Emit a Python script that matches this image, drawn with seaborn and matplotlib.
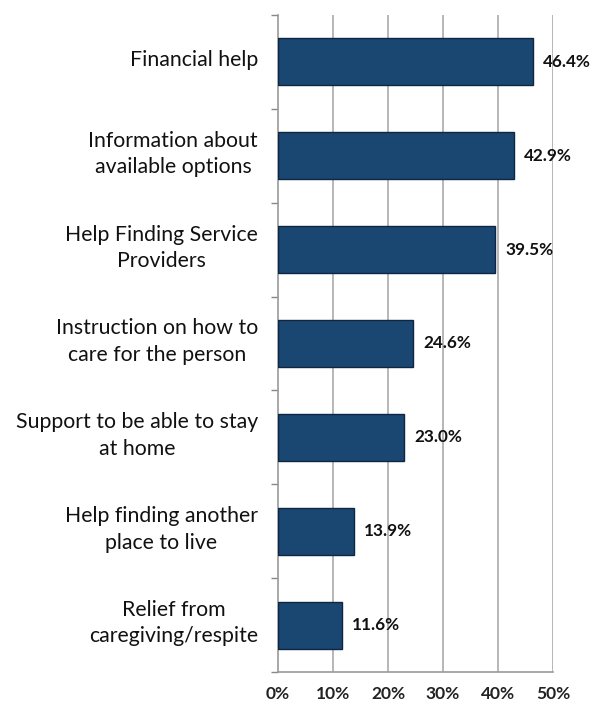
import matplotlib
matplotlib.use("Agg")
import matplotlib.pyplot as plt
import seaborn as sns
import pandas as pd
import numpy as np
from matplotlib.ticker import FixedLocator

categories = [
    "Financial help",
    "Information about\navailable options",
    "Help Finding Service\nProviders",
    "Instruction on how to\ncare for the person",
    "Support to be able to stay\nat home",
    "Help finding another\nplace to live",
    "Relief from\ncaregiving/respite",
]
values = [46.4, 42.9, 39.5, 24.6, 23.0, 13.9, 11.6]
tick_values = [0, 10, 20, 30, 40, 50]
tick_labels = ["0%", "10%", "20%", "30%", "40%", "50%"]

df = pd.DataFrame({"need": categories, "pct": values})

sns.set_theme(style="white")
plt.rcParams["font.family"] = ["Lato", "DejaVu Sans"]

fig = plt.figure(figsize=(6.06, 7.06), dpi=100)
ax = fig.add_axes([0.4587, 0.0482, 0.4538, 0.9306])

sns.barplot(data=df, x="pct", y="need", orient="h", color="#1a4672",
            width=0.5, saturation=1, ax=ax, zorder=3,
            edgecolor="#0d2742", linewidth=1.0)

ax.set_xlim(0, 50)
ax.set_ylim(len(categories) - 0.5, -0.5)
ax.set_xticks(tick_values)
ax.set_xticklabels(tick_labels, fontsize=12.5, fontweight="bold", color="#222222")
ax.set_xlabel("")
ax.set_ylabel("")

# vertical gridlines
for t in tick_values[1:]:
    ax.axvline(t, color="#aaaaaa", linewidth=1.2, zorder=1)

# category labels, each line centred, block right-aligned near the axis
ax.set_yticks([])
for i, lab in enumerate(categories):
    ax.text(-0.073, i - 0.02, lab, transform=ax.get_yaxis_transform(),
            ha="right", va="center", multialignment="center",
            fontsize=15.3, color="#111111", linespacing=1.4)

# short category separator ticks on the left axis
ax.yaxis.set_minor_locator(FixedLocator(np.arange(-0.5, len(categories), 1.0)))
ax.tick_params(axis="y", which="minor", length=5, color="#888888", width=1.0, left=True)
ax.tick_params(axis="x", which="major", length=0, pad=10)

for side in ["top", "right"]:
    ax.spines[side].set_visible(False)
ax.spines["left"].set_color("#999999")
ax.spines["left"].set_linewidth(1.2)
ax.spines["bottom"].set_color("#999999")
ax.spines["bottom"].set_linewidth(1.2)

# value labels
for i, v in enumerate(values):
    ax.text(v + 1.8, i, f"{v:.1f}%", ha="left", va="center",
            fontsize=12.3, fontweight="bold", color="#111111")

fig.savefig("out.png", dpi=100, facecolor="white")
